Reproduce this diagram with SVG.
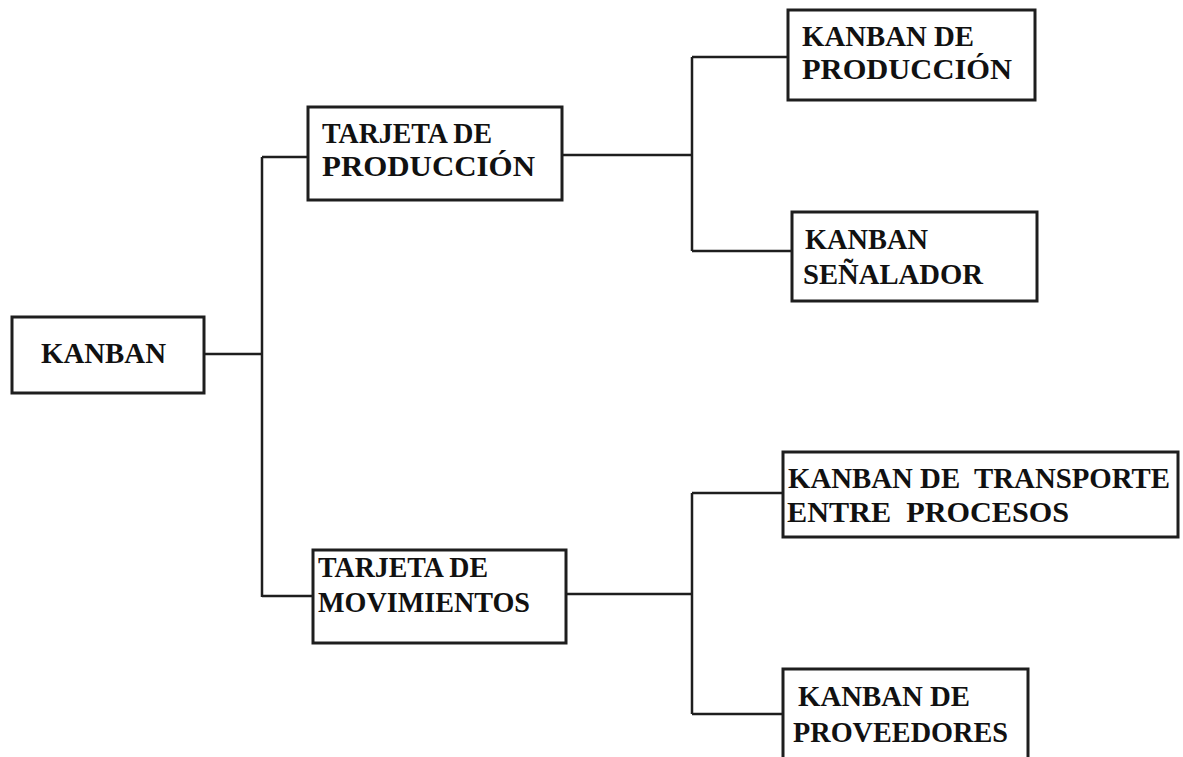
<svg xmlns="http://www.w3.org/2000/svg" width="1183" height="757" viewBox="0 0 1183 757">
  <style>
    .box { fill: #ffffff; stroke: #1e1e1e; stroke-width: 3; }
    .wire { fill: none; stroke: #1e1e1e; stroke-width: 2.5; }
    .lbl { font-weight: 700; font-size: 29px; fill: #111111; white-space: pre; }
  </style>
  <rect width="1183" height="757" fill="#ffffff"/>

  <!-- tree connectors -->
  <g id="connectors">
    <path class="wire" d="M204 354 H262 M262 157 V597 M262 157 H308 M262 596 H313"/>
    <path class="wire" d="M562 155 H692 M692 57 V251 M692 57 H788 M692 251 H792"/>
    <path class="wire" d="M566 594 H692 M692 493 V714 M692 493 H783 M692 714 H783"/>
  </g>

  <g font-family="Times New Roman, Liberation Serif, DejaVu Serif, serif">
  <g id="kanban">
    <rect class="box" x="12" y="317" width="192" height="76"/>
    <text class="lbl" x="41" y="363" textLength="125" lengthAdjust="spacingAndGlyphs">KANBAN</text>
  </g>

  <g id="tarjeta-produccion">
    <rect class="box" x="308" y="107" width="254" height="93"/>
    <text class="lbl" x="322" y="143" textLength="170" lengthAdjust="spacingAndGlyphs">TARJETA DE</text>
    <text class="lbl" x="322" y="176" textLength="213" lengthAdjust="spacingAndGlyphs">PRODUCCIÓN</text>
  </g>

  <g id="tarjeta-movimientos">
    <rect class="box" x="313" y="550" width="253" height="93"/>
    <text class="lbl" x="318" y="577" textLength="170" lengthAdjust="spacingAndGlyphs">TARJETA DE</text>
    <text class="lbl" x="318" y="612" textLength="212" lengthAdjust="spacingAndGlyphs">MOVIMIENTOS</text>
  </g>

  <g id="kanban-produccion">
    <rect class="box" x="788" y="10" width="247" height="90"/>
    <text class="lbl" x="802" y="46" textLength="172" lengthAdjust="spacingAndGlyphs">KANBAN DE</text>
    <text class="lbl" x="802" y="79" textLength="210" lengthAdjust="spacingAndGlyphs">PRODUCCIÓN</text>
  </g>

  <g id="kanban-senalador">
    <rect class="box" x="792" y="212" width="245" height="89"/>
    <text class="lbl" x="805" y="249" textLength="123" lengthAdjust="spacingAndGlyphs">KANBAN</text>
    <text class="lbl" x="803" y="284" textLength="180" lengthAdjust="spacingAndGlyphs">SEÑALADOR</text>
  </g>

  <g id="kanban-transporte">
    <rect class="box" x="783" y="452" width="395" height="85"/>
    <text class="lbl" x="788" y="488" textLength="382" lengthAdjust="spacingAndGlyphs">KANBAN DE  TRANSPORTE</text>
    <text class="lbl" x="787" y="522" textLength="282" lengthAdjust="spacingAndGlyphs">ENTRE  PROCESOS</text>
  </g>

  <g id="kanban-proveedores">
    <rect class="box" x="783" y="669" width="245" height="100"/>
    <text class="lbl" x="798" y="706" textLength="172" lengthAdjust="spacingAndGlyphs">KANBAN DE</text>
    <text class="lbl" x="793" y="742" textLength="215" lengthAdjust="spacingAndGlyphs">PROVEEDORES</text>
  </g>
  </g>
</svg>
